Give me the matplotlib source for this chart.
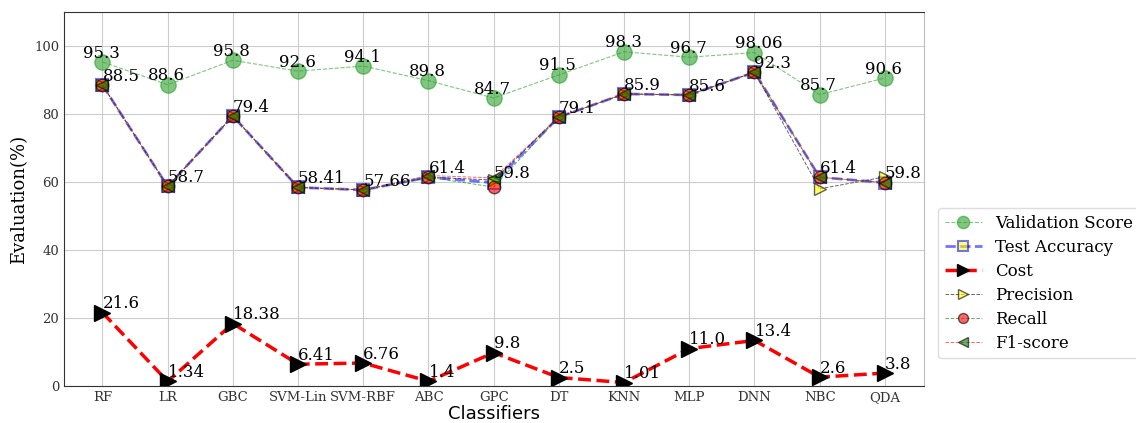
import matplotlib
matplotlib.use("Agg")
import matplotlib.pyplot as plt

classifiers = ["RF", "LR", "GBC", "SVM-Lin", "SVM-RBF", "ABC", "GPC", "DT",
               "KNN", "MLP", "DNN", "NBC", "QDA"]
validation = [95.3, 88.6, 95.8, 92.6, 94.1, 89.8, 84.7, 91.5, 98.3, 96.7, 98.06, 85.7, 90.6]
test_acc = [88.5, 58.7, 79.4, 58.41, 57.66, 61.4, 59.8, 79.1, 85.9, 85.6, 92.3, 61.4, 59.8]
cost = [21.6, 1.34, 18.38, 6.41, 6.76, 1.4, 9.8, 2.5, 1.01, 11.0, 13.4, 2.6, 3.8]
precision = [88.5, 58.7, 79.4, 58.41, 57.66, 61.4, 60.6, 79.1, 85.9, 85.6, 92.3, 58.0, 61.5]
recall = [88.5, 58.7, 79.4, 58.41, 57.66, 61.4, 58.5, 79.1, 85.9, 85.6, 92.3, 61.4, 59.8]
f1 = [88.5, 58.7, 79.4, 58.41, 57.66, 61.9, 61.2, 79.1, 85.9, 85.6, 92.3, 61.4, 59.8]

validation_text = ["95.3", "88.6", "95.8", "92.6", "94.1", "89.8", "84.7", "91.5",
                   "98.3", "96.7", "98.06", "85.7", "90.6"]
test_text = ["88.5", "58.7", "79.4", "58.41", "57.66", "61.4", "59.8", "79.1",
             "85.9", "85.6", "92.3", "61.4", "59.8"]
cost_text = ["21.6", "1.34", "18.38", "6.41", "6.76", "1.4", "9.8", "2.5",
             "1.01", "11.0", "13.4", "2.6", "3.8"]

plt.rcParams["font.family"] = "DejaVu Serif"

fig = plt.figure(figsize=(11.36, 4.23), dpi=100)
ax = fig.add_axes([64 / 1136, 37 / 423, 860 / 1136, 374 / 423])

x = list(range(len(classifiers)))

ax.plot(x, validation, "--", color="tab:green", lw=0.8, alpha=0.6,
        marker="o", ms=11, mfc="tab:green", mec="tab:green",
        label="Validation Score")
ax.plot(x, test_acc, "--", color="blue", lw=2, alpha=0.55,
        marker="s", ms=9, mfc="yellow", mec="blue", mew=1.5,
        label="Test Accuracy")
ax.plot(x, cost, "--", color="red", lw=2.5,
        marker=">", ms=11, mfc="black", mec="black",
        label="Cost")
ax.plot(x, precision, "--", color="black", lw=0.7, alpha=0.6,
        marker=">", ms=9, mfc="yellow", mec="black",
        label="Precision")
ax.plot(x, recall, "--", color="green", lw=0.7, alpha=0.6,
        marker="o", ms=9, mfc="red", mec="black",
        label="Recall")
ax.plot(x, f1, "--", color="red", lw=0.7, alpha=0.6,
        marker="<", ms=9, mfc="green", mec="black",
        label="F1-score")

for i, v in enumerate(validation):
    ax.text(i - 0.3, v + 1.3, validation_text[i], fontsize=12)
for i, v in enumerate(test_acc):
    ax.text(i, v + 1.3, test_text[i], fontsize=12)
for i, v in enumerate(cost):
    ax.text(i, v + 1.3, cost_text[i], fontsize=12)

ax.set_xlim(-0.59, 12.6)
ax.set_ylim(0, 110)
ax.set_xticks(x)
ax.set_xticklabels(classifiers, fontsize=9.5, color="#333333")
ax.set_yticks([0, 20, 40, 60, 80, 100])
ax.tick_params(axis="y", labelsize=9.5, labelcolor="#333333")
ax.tick_params(length=0)
ax.grid(True, color="#cccccc", lw=0.8)
ax.set_axisbelow(True)
for s in ["left", "bottom", "top"]:
    ax.spines[s].set_color("#333333")
ax.spines["right"].set_color("#bbbbbb")

ax.set_ylabel("Evaluation(%)", fontsize=13)
ax.set_xlabel("Classifiers", fontsize=13, family="DejaVu Sans", labelpad=1)

fig.legend(loc="center left", bbox_to_anchor=(930 / 1136, 1 - 283 / 423),
           fontsize=12, framealpha=1, edgecolor="#dddddd",
           markerscale=0.8, labelspacing=0.42, handlelength=2.2)

fig.savefig("out.png", dpi=100)
